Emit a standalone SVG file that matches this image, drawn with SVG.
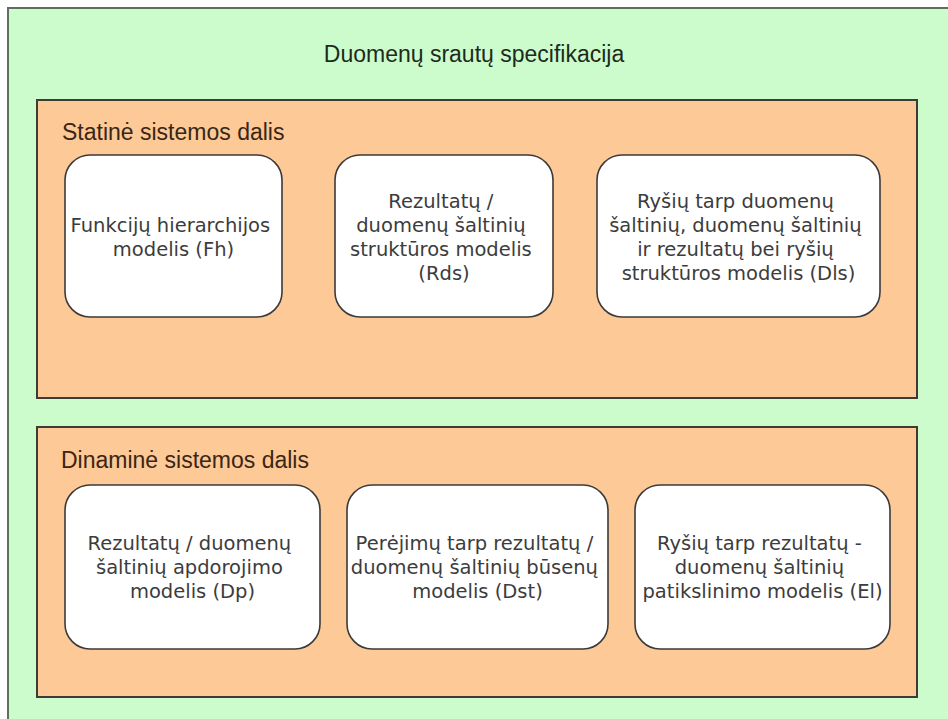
<svg xmlns="http://www.w3.org/2000/svg" width="948" height="719" viewBox="0 0 948 719">
  <style>
    .frame { fill: #ccfccc; stroke: #5f6f5f; stroke-width: 2; }
    .part { fill: #fdc997; stroke: #3e3a36; stroke-width: 2; }
    .model { fill: #ffffff; stroke: #3a3a3a; stroke-width: 1.6; }
    .title { font-family: "Liberation Sans", Arial, sans-serif; font-size: 23px; fill: #1d2a1d; text-anchor: middle; }
    .part-label { font-family: "Liberation Sans", Arial, sans-serif; font-size: 23px; fill: #3a2614; }
    .model-text { font-family: "DejaVu Sans", Verdana, sans-serif; font-size: 19.5px; fill: #3c3c3c; text-anchor: middle; }
  </style>

  <!-- Outer frame: data-flow specification -->
  <g id="spec">
    <rect class="frame" x="8" y="8" width="960" height="730"/>
    <text class="title" x="474" y="61.5">Duomenų srautų specifikacija</text>
  </g>

  <!-- Static part of the system -->
  <g id="static-part">
    <rect class="part" x="37" y="100" width="880" height="298"/>
    <text class="part-label" x="62" y="140">Statinė sistemos dalis</text>
  </g>

  <g id="model-fh">
    <rect class="model" x="65" y="155" width="217" height="162" rx="25" ry="25"/>
    <text class="model-text">
      <tspan x="173.5" y="231.5">Funkcijų hierarchijos</tspan>
      <tspan x="173.5" y="255.5">modelis (Fh)</tspan>
    </text>
  </g>

  <g id="model-rds">
    <rect class="model" x="335" y="155" width="218" height="162" rx="25" ry="25"/>
    <text class="model-text">
      <tspan x="444" y="207.5">Rezultatų /</tspan>
      <tspan x="444" y="231.5">duomenų šaltinių</tspan>
      <tspan x="444" y="255.5">struktūros modelis</tspan>
      <tspan x="444" y="279.5">(Rds)</tspan>
    </text>
  </g>

  <g id="model-dls">
    <rect class="model" x="597" y="155" width="283" height="162" rx="25" ry="25"/>
    <text class="model-text">
      <tspan x="738.5" y="207.5">Ryšių tarp duomenų</tspan>
      <tspan x="738.5" y="231.5">šaltinių, duomenų šaltinių</tspan>
      <tspan x="738.5" y="255.5">ir rezultatų bei ryšių</tspan>
      <tspan x="738.5" y="279.5">struktūros modelis (Dls)</tspan>
    </text>
  </g>

  <!-- Dynamic part of the system -->
  <g id="dynamic-part">
    <rect class="part" x="37" y="427" width="880" height="270"/>
    <text class="part-label" x="61" y="468">Dinaminė sistemos dalis</text>
  </g>

  <g id="model-dp">
    <rect class="model" x="65" y="485" width="255" height="164" rx="25" ry="25"/>
    <text class="model-text">
      <tspan x="192.5" y="550">Rezultatų / duomenų</tspan>
      <tspan x="192.5" y="574">šaltinių apdorojimo</tspan>
      <tspan x="192.5" y="598">modelis (Dp)</tspan>
    </text>
  </g>

  <g id="model-dst">
    <rect class="model" x="347" y="485" width="261" height="164" rx="25" ry="25"/>
    <text class="model-text">
      <tspan x="477.5" y="550">Perėjimų tarp rezultatų /</tspan>
      <tspan x="477.5" y="574">duomenų šaltinių būsenų</tspan>
      <tspan x="477.5" y="598">modelis (Dst)</tspan>
    </text>
  </g>

  <g id="model-el">
    <rect class="model" x="635" y="485" width="255" height="164" rx="25" ry="25"/>
    <text class="model-text">
      <tspan x="762.5" y="550">Ryšių tarp rezultatų -</tspan>
      <tspan x="762.5" y="574">duomenų šaltinių</tspan>
      <tspan x="762.5" y="598">patikslinimo modelis (El)</tspan>
    </text>
  </g>

  <!-- No connectors between the models -->
  <g id="connectors"/>
</svg>
